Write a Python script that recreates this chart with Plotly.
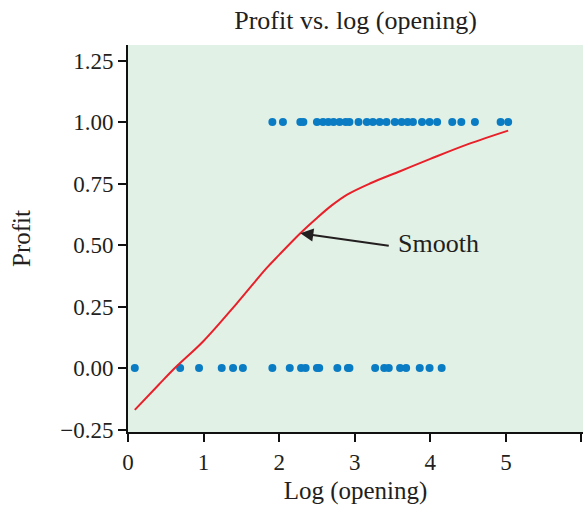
import plotly.graph_objects as go

# Data
profit1_x = [1.91, 2.05, 2.28, 2.32, 2.50, 2.58, 2.65, 2.72, 2.80, 2.88, 2.93,
             3.05, 3.16, 3.24, 3.33, 3.42, 3.53, 3.62, 3.70, 3.77, 3.89, 3.99,
             4.09, 4.29, 4.41, 4.59, 4.93, 5.03]
profit0_x = [0.09, 0.69, 0.94, 1.24, 1.39, 1.52, 1.91, 2.14, 2.29, 2.35, 2.50,
             2.53, 2.77, 2.91, 2.93, 3.27, 3.39, 3.45, 3.60, 3.68, 3.86, 3.99, 4.15]
smooth_x = [0.09, 0.40, 0.62, 1.00, 1.44, 1.83, 2.00, 2.28, 2.50, 2.70, 2.90,
            3.20, 3.60, 4.00, 4.50, 5.03]
smooth_y = [-0.17, -0.07, 0.00, 0.11, 0.263, 0.405, 0.46, 0.548, 0.61, 0.662, 0.705,
            0.75, 0.80, 0.85, 0.91, 0.965]
y_ticks = [-0.25, 0.0, 0.25, 0.5, 0.75, 1.0, 1.25]
y_tick_labels = ["\u22120.25", "0.00", "0.25", "0.50", "0.75", "1.00", "1.25"]
x_ticks = [0, 1, 2, 3, 4, 5, 6]

FONT = "Liberation Serif"
DOT = "#0a7cc4"
TXT = "#231f20"

fig = go.Figure()
fig.add_trace(go.Scatter(x=profit1_x, y=[1.0] * len(profit1_x), mode="markers",
                         marker=dict(color=DOT, size=8), showlegend=False, cliponaxis=False))
fig.add_trace(go.Scatter(x=profit0_x, y=[0.0] * len(profit0_x), mode="markers",
                         marker=dict(color=DOT, size=8), showlegend=False, cliponaxis=False))
fig.add_trace(go.Scatter(x=smooth_x, y=smooth_y, mode="lines",
                         line=dict(color="#e8202a", width=2, shape="spline", smoothing=1.0),
                         showlegend=False))

fig.add_annotation(x=2.28, y=0.548, ax=3.47, ay=0.496, axref="x", ayref="y",
                   xref="x", yref="y", text="", showarrow=True,
                   arrowhead=2, arrowsize=1.3, arrowwidth=2, arrowcolor=TXT)
fig.add_annotation(x=3.55, y=0.505, xref="x", yref="y", text="Smooth",
                   showarrow=False, xanchor="left", yanchor="middle",
                   font=dict(family=FONT, size=26, color=TXT))

fig.update_layout(
    width=583, height=506,
    margin=dict(l=128, r=0, t=45, b=74),
    paper_bgcolor="white", plot_bgcolor="#e1f1e6",
    font=dict(family=FONT, size=23, color=TXT),
    title=dict(text="Profit vs. log (opening)", x=0.5, xref="paper",
               y=0.96, yref="container", yanchor="middle",
               font=dict(family=FONT, size=26, color=TXT)),
    xaxis=dict(range=[0, 6.02], tickvals=x_ticks, showline=True, linecolor="#111",
               linewidth=2, ticks="outside", ticklen=8, tickwidth=2, tickcolor="#111",
               showgrid=False, zeroline=False, automargin=False,
               tickfont=dict(family=FONT, size=23, color=TXT),
               title=dict(text="Log (opening)", font=dict(family=FONT, size=25, color=TXT),
                          standoff=8)),
    yaxis=dict(range=[-0.26, 1.313], tickvals=y_ticks, ticktext=y_tick_labels,
               showline=True, linecolor="#111", linewidth=2, ticks="outside",
               ticklen=8, tickwidth=2, tickcolor="#111", showgrid=False, zeroline=False,
               automargin=False, tickfont=dict(family=FONT, size=23, color=TXT),
               title=dict(text="Profit", font=dict(family=FONT, size=25, color=TXT),
                          standoff=22)),
)

# Remove the page's default body margin so the figure fills the window exactly.
fig.write_html("out.html", config={"displayModeBar": False},
               post_script="document.body.style.margin='0';document.body.style.overflow='hidden';")
